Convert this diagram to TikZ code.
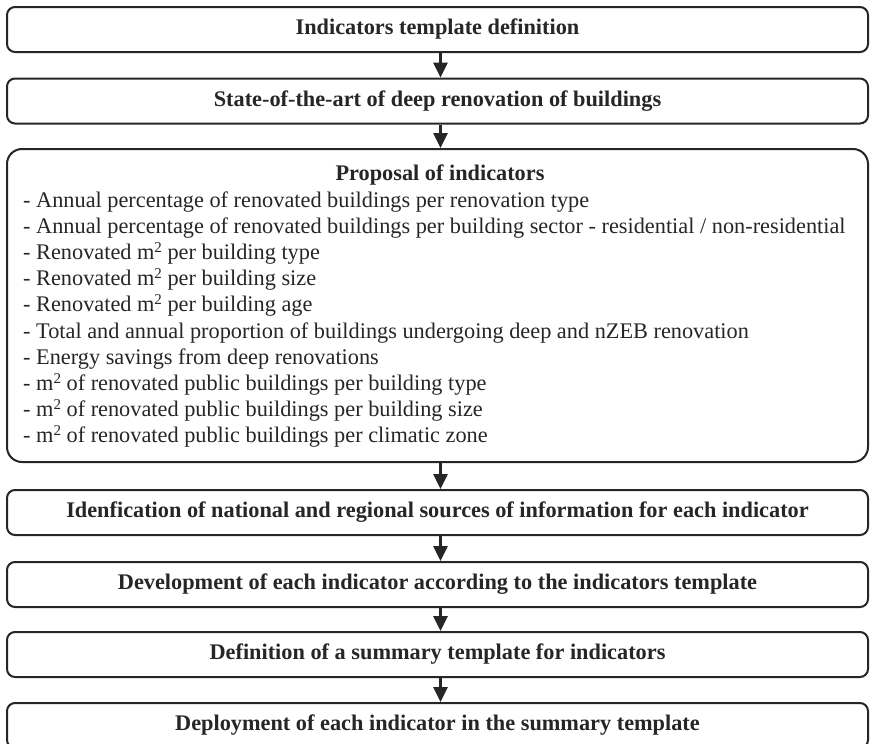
\documentclass[tikz,border=0pt]{standalone}
\usepackage{fontspec}
\setmainfont{Liberation Serif}
\usetikzlibrary{arrows.meta,calc}
\definecolor{ink}{HTML}{262626}
\newcommand{\sqm}{m\raisebox{0.33em}{\fontsize{15}{15}\selectfont 2}}
\begin{document}
\begin{tikzpicture}[x=1pt,y=1pt,
  box/.style={draw=ink, line width=2pt, rounded corners=8pt, fill=white,
    minimum width=861pt, minimum height=45pt, inner sep=0pt,
    font=\fontsize{22.3}{26}\selectfont\bfseries, text=ink},
  bigbox/.style={draw=ink, line width=2pt, rounded corners=15pt, fill=white,
    minimum width=861pt, minimum height=313pt, inner sep=0pt},
  ttl/.style={font=\fontsize{22.3}{26}\selectfont\bfseries, text=ink, inner sep=0pt},
  item/.style={font=\fontsize{22.3}{26}\selectfont, text=ink, inner sep=0pt, anchor=base west},
  flow/.style={draw=ink, line width=3pt, -{Triangle[width=14pt,length=15pt]}}
]
\useasboundingbox[fill=white] (0,0) rectangle (870,-744);
\node[box] (b1) at (437.5,-29.5) {Indicators template definition};
\node[box] (b2) at (437.5,-101) {State-of-the-art of deep renovation of buildings};
\node[bigbox] (b3) at (437.5,-305.5) {};
\node[ttl, anchor=base] (t3) at (440,-180) {Proposal of indicators};
\node[item] (l1) at (23,-207) {- Annual percentage of renovated buildings per renovation type};
\node[item] (l2) at (23,-233.2) {- Annual percentage of renovated buildings per building sector - residential / non-residential};
\node[item] (l3) at (23,-259.4) {- Renovated \sqm{} per building type};
\node[item] (l4) at (23,-285.6) {- Renovated \sqm{} per building size};
\node[item] (l5) at (23,-311.8) {- Renovated \sqm{} per building age};
\node[item] (l6) at (23,-338) {- Total and annual proportion of buildings undergoing deep and nZEB renovation};
\node[item] (l7) at (23,-364.2) {- Energy savings from deep renovations};
\node[item] (l8) at (23,-390.4) {- \sqm{} of renovated public buildings per building type};
\node[item] (l9) at (23,-416.6) {- \sqm{} of renovated public buildings per building size};
\node[item] (l10) at (23,-442.8) {- \sqm{} of renovated public buildings per climatic zone};
\node[box] (b4) at (437.5,-512.5) {Idenfication of national and regional sources of information for each indicator};
\node[box] (b5) at (437.5,-584.5) {Development of each indicator according to the indicators template};
\node[box] (b6) at (437.5,-654.5) {Definition of a summary template for indicators};
\node[box] (b7) at (437.5,-725.5) {Deployment of each indicator in the summary template};
\foreach \a/\b in {b1/b2,b2/b3,b3/b4,b4/b5,b5/b6,b6/b7}
  \draw[flow] ([xshift=3pt]\a.south) -- ([xshift=3pt]\b.north);
\end{tikzpicture}
\end{document}
